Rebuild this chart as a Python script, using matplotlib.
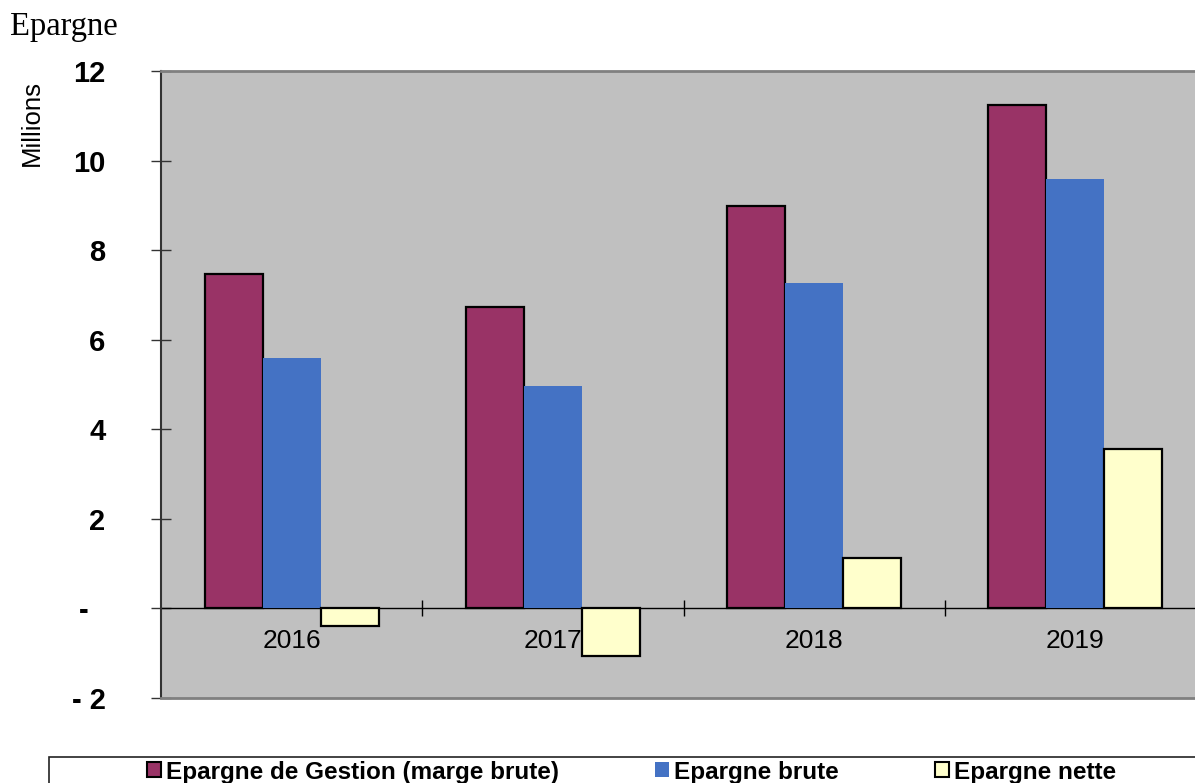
import numpy as np
import matplotlib.pyplot as plt
from matplotlib.patches import Patch, Rectangle
from matplotlib.transforms import ScaledTranslation

plt.rcParams['font.family'] = ['Liberation Sans', 'DejaVu Sans']

# Values in millions
years = ['2016', '2017', '2018', '2019']
gestion = [7.47, 6.73, 8.99, 11.23]
brute = [5.60, 4.97, 7.26, 9.59]
nette = [-0.40, -1.06, 1.13, 3.56]
series_names = ['Epargne de Gestion (marge brute)', 'Epargne brute', 'Epargne nette']
yticks = [12, 10, 8, 6, 4, 2, 0, -2]
ytick_labels = ['12', '10', '8', '6', '4', '2', '-', '- 2']

maroon = '#993366'
blue = '#4472C4'
yellow = '#FFFFCC'

fig = plt.figure(figsize=(11.95, 7.83), dpi=100)
ax = fig.add_axes([161 / 1195, 1 - 698 / 783, (1206 - 161) / 1195, (698 - 71) / 783])
ax.set_facecolor('#C0C0C0')

x = np.arange(len(years))
w = 0.222
ax.bar(x - w, gestion, w, color=maroon, edgecolor='black', linewidth=1.6, zorder=3)
ax.bar(x, brute, w, color=blue, linewidth=0, zorder=3)
ax.bar(x + w, nette, w, color=yellow, edgecolor='black', linewidth=1.6, zorder=3)

ax.set_xlim(-0.5, 3.5)
ax.set_ylim(-2, 12)

# spines
ax.spines['right'].set_visible(False)
ax.spines['top'].set_color('#808080')
ax.spines['top'].set_linewidth(2)
ax.spines['left'].set_color('#333333')
ax.spines['left'].set_linewidth(1.5)
ax.spines['bottom'].set_position(('data', 0))
ax.spines['bottom'].set_color('black')
ax.spines['bottom'].set_linewidth(1)
ax.spines['bottom'].set_zorder(2)
ax.axhline(-2, color='#808080', linewidth=2, clip_on=False, zorder=4)

# y axis
ax.set_yticks(yticks)
ax.set_yticklabels(ytick_labels, fontsize=21, fontweight='bold')
ax.tick_params(axis='y', direction='inout', length=14, width=1, color='#333333', pad=33)
for lab in ax.get_yticklabels():
    if lab.get_text() == '-':
        lab.set_transform(lab.get_transform() + ScaledTranslation(-0.17, 0, fig.dpi_scale_trans))

# x axis: cross ticks between groups, year labels under the zero line
ax.set_xticks([0.5, 1.5, 2.5])
ax.set_xticklabels([])
ax.set_xticks(x, labels=years, minor=True)
ax.tick_params(axis='x', which='major', direction='inout', length=12, width=1, color='black')
ax.tick_params(axis='x', which='minor', length=0, pad=15, labelsize=19)

fig.text(10 / 1195, 1 - 35 / 783, 'Epargne', family='Liberation Serif', fontsize=23.5, va='baseline')
fig.text(32 / 1195, 1 - 123 / 783, 'Millions', fontsize=18.5, rotation=90, ha='center', va='center')

# legend
handles = [Patch(facecolor=maroon, edgecolor='black', linewidth=1.5),
           Patch(facecolor=blue, linewidth=0),
           Patch(facecolor=yellow, edgecolor='black', linewidth=1.5)]
fig.legend(handles, series_names, loc='center left', bbox_to_anchor=(135 / 1195, 1 - 772 / 783),
           ncol=3, frameon=False, borderpad=0, handlelength=0.58, handleheight=0.58,
           handletextpad=0.2, columnspacing=3.95, prop={'weight': 'bold', 'size': 17.5})
fig.patches.append(Rectangle((49 / 1195, -0.1), 1.2, 0.1 + 1 - 757 / 783, transform=fig.transFigure,
                             fill=False, edgecolor='#222222', linewidth=1.2))

fig.savefig('out.png', dpi=100)
